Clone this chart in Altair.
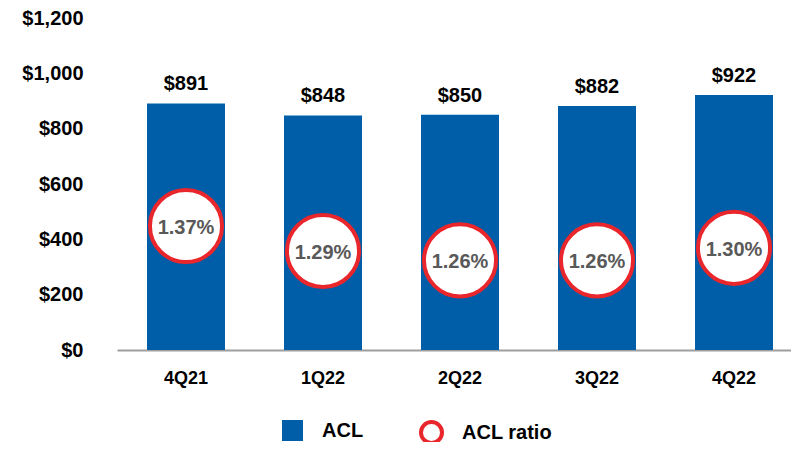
import altair as alt
import pandas as pd

quarters = ["4Q21", "1Q22", "2Q22", "3Q22", "4Q22"]
acl = [891, 848, 850, 882, 922]
acl_ratio = [1.37, 1.29, 1.26, 1.26, 1.30]
y_ticks = [0, 200, 400, 600, 800, 1000, 1200]

df = pd.DataFrame({
    "quarter": quarters,
    "acl": acl,
    "ratio": acl_ratio,
    "s1": ["ACL"] * len(quarters),
    "s2": ["ACL ratio"] * len(quarters),
})

FONT = "Liberation Sans"
BLUE = "#005EA8"
RED = "#E8262B"

x = alt.X(
    "quarter:N",
    sort=quarters,
    title=None,
    scale=alt.Scale(paddingInner=0.4307, paddingOuter=0.1752, align=0.625),
    axis=alt.Axis(
        labelAngle=0,
        ticks=False,
        domainColor="#9E9E9E",
        domainWidth=2,
        labelFont="Liberation Sans Narrow, Liberation Sans",
        labelFontSize=18,
        labelFontWeight="bold",
        labelColor="#000000",
        labelPadding=19,
    ),
)

y_acl = alt.Y(
    "acl:Q",
    title=None,
    scale=alt.Scale(domain=[0, 1200], nice=False),
    axis=alt.Axis(
        values=y_ticks,
        labelExpr="'$' + format(datum.value, ',')",
        domain=False,
        ticks=False,
        grid=False,
        labelFont=FONT,
        labelFontSize=20,
        labelFontWeight="bold",
        labelColor="#000000",
        labelPadding=34,
    ),
)

bars = alt.Chart(df).mark_bar(size=78).encode(
    x=x,
    y=y_acl,
    fill=alt.Fill(
        "s1:N",
        scale=alt.Scale(domain=["ACL"], range=[BLUE]),
        legend=alt.Legend(
            title=None,
            orient="none",
            legendX=165,
            legendY=402,
            padding=0,
            symbolType="square",
            symbolSize=441,
            symbolStrokeWidth=0,
            labelFont=FONT,
            labelFontSize=20,
            labelFontWeight="bold",
            labelColor="#000000",
            labelOffset=19,
        ),
    ),
)

bar_labels = alt.Chart(df).transform_calculate(
    lbl="'$' + format(datum.acl, ',')"
).mark_text(
    font=FONT, fontSize=20, fontWeight="bold", color="#000000",
    baseline="alphabetic", dy=-13,
).encode(x=x, y=y_acl, text="lbl:N")

y_ratio = alt.Y(
    "ratio:Q",
    scale=alt.Scale(domain=[0.973, 2.036], nice=False, zero=False),
    axis=None,
)

circles = alt.Chart(df).mark_point(
    shape="circle", filled=False, fill="white", fillOpacity=1,
    size=5200, strokeWidth=4, opacity=1,
).encode(
    x=x,
    y=y_ratio,
    stroke=alt.Stroke(
        "s2:N",
        scale=alt.Scale(domain=["ACL ratio"], range=[RED]),
        legend=alt.Legend(
            title=None,
            orient="none",
            legendX=302,
            legendY=402,
            padding=0,
            symbolType="circle",
            symbolSize=441,
            symbolStrokeWidth=4,
            symbolFillColor="white",
            labelFont=FONT,
            labelFontSize=20,
            labelFontWeight="bold",
            labelColor="#000000",
            labelOffset=18,
        ),
    ),
)

pct_labels = alt.Chart(df).transform_calculate(
    lbl="format(datum.ratio, '.2f') + '%'"
).mark_text(
    font=FONT, fontSize=20, fontWeight="bold", color="#595959",
    baseline="middle", dy=2,
).encode(x=x, y=y_ratio, text="lbl:N")

left = alt.layer(bars, bar_labels)
right = alt.layer(circles, pct_labels)

chart = alt.layer(left, right).resolve_scale(y="independent").properties(
    width=674,
    height=332,
    autosize=alt.AutoSizeParams(type="none"),
    padding={"left": 109, "top": 10, "right": 0, "bottom": 92},
).configure_view(stroke=None)

chart.save("out.html", embed_options={"renderer": "svg", "actions": False})
